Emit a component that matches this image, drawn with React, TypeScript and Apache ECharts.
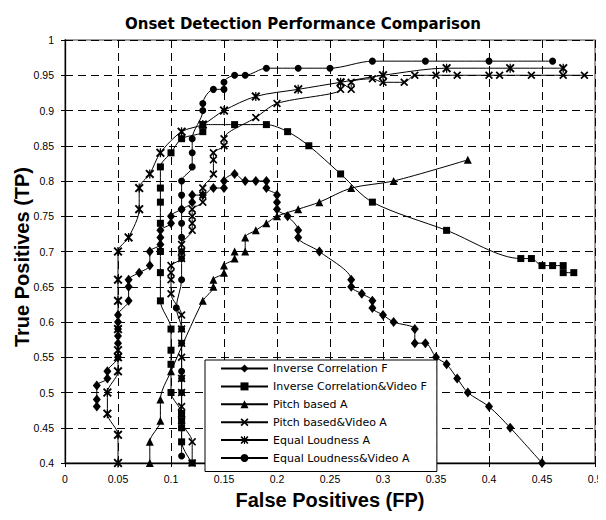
import React, { useEffect, useRef } from "react";
import * as echarts from "echarts";

const seriesNames = [
  "Inverse Correlation F",
  "Inverse Correlation&Video F",
  "Pitch based A",
  "Pitch based&Video A",
  "Equal Loudness A",
  "Equal Loudness&Video A",
];

const invCorrF: number[][] = [
  [0.03, 0.48], [0.03, 0.49], [0.03, 0.51], [0.04, 0.52], [0.04, 0.53], [0.05, 0.55], [0.05, 0.57],
  [0.05, 0.58], [0.05, 0.59], [0.05, 0.6], [0.05, 0.61], [0.06, 0.63], [0.06, 0.65], [0.06, 0.66],
  [0.07, 0.67], [0.08, 0.68], [0.08, 0.7], [0.09, 0.71], [0.09, 0.72], [0.09, 0.73], [0.1, 0.74],
  [0.1, 0.75], [0.11, 0.76], [0.12, 0.77], [0.12, 0.78], [0.13, 0.78], [0.14, 0.79], [0.15, 0.79],
  [0.15, 0.8], [0.16, 0.81], [0.17, 0.8], [0.18, 0.8], [0.19, 0.8], [0.19, 0.79], [0.2, 0.78],
  [0.2, 0.77], [0.2, 0.76], [0.21, 0.75], [0.22, 0.73], [0.22, 0.72], [0.24, 0.7], [0.27, 0.66],
  [0.27, 0.65], [0.28, 0.64], [0.29, 0.63], [0.29, 0.62], [0.3, 0.61], [0.31, 0.6], [0.33, 0.59],
  [0.33, 0.57], [0.34, 0.57], [0.35, 0.55], [0.36, 0.54], [0.37, 0.52], [0.38, 0.5], [0.4, 0.48],
  [0.42, 0.45], [0.45, 0.4],
];

const invCorrVideoF: number[][] = [
  [0.12, 0.4], [0.11, 0.43], [0.11, 0.45], [0.11, 0.46], [0.11, 0.47], [0.1, 0.5], [0.1, 0.54],
  [0.1, 0.56], [0.1, 0.59], [0.09, 0.63], [0.09, 0.67], [0.09, 0.7], [0.09, 0.74], [0.09, 0.77],
  [0.09, 0.79], [0.09, 0.82], [0.1, 0.84], [0.11, 0.86], [0.13, 0.87], [0.13, 0.88], [0.16, 0.88],
  [0.19, 0.88], [0.21, 0.87], [0.23, 0.85], [0.26, 0.81], [0.29, 0.77], [0.36, 0.73], [0.43, 0.69],
  [0.44, 0.69], [0.45, 0.68], [0.46, 0.68], [0.47, 0.68], [0.47, 0.67], [0.48, 0.67],
];

const pitchA: number[][] = [
  [0.08, 0.4], [0.08, 0.43], [0.09, 0.46], [0.09, 0.49], [0.1, 0.53], [0.13, 0.63], [0.14, 0.65],
  [0.14, 0.66], [0.15, 0.67], [0.15, 0.68], [0.16, 0.69], [0.16, 0.7], [0.17, 0.7], [0.17, 0.72],
  [0.18, 0.73], [0.19, 0.74], [0.2, 0.75], [0.22, 0.76], [0.24, 0.77], [0.27, 0.79], [0.31, 0.8],
  [0.38, 0.83],
];

const pitchVideoA: number[][] = [
  [0.12, 0.4], [0.12, 0.43], [0.11, 0.46], [0.11, 0.47], [0.11, 0.48], [0.11, 0.5], [0.11, 0.52],
  [0.11, 0.55], [0.11, 0.57], [0.11, 0.59], [0.11, 0.61], [0.1, 0.64], [0.1, 0.66], [0.1, 0.67],
  [0.1, 0.68], [0.11, 0.69], [0.11, 0.7], [0.11, 0.71], [0.12, 0.73], [0.12, 0.74], [0.12, 0.75],
  [0.12, 0.76], [0.13, 0.77], [0.13, 0.78], [0.13, 0.79], [0.14, 0.81], [0.14, 0.83], [0.14, 0.84],
  [0.15, 0.85], [0.15, 0.86], [0.18, 0.89], [0.2, 0.91], [0.26, 0.93], [0.26, 0.94], [0.27, 0.93],
  [0.27, 0.94], [0.29, 0.945], [0.3, 0.94], [0.32, 0.94], [0.33, 0.95], [0.35, 0.95], [0.37, 0.95],
  [0.4, 0.95], [0.41, 0.95], [0.44, 0.95], [0.47, 0.95], [0.49, 0.95],
];

const eqLoudA: number[][] = [
  [0.05, 0.4], [0.05, 0.44], [0.04, 0.47], [0.04, 0.5], [0.05, 0.53], [0.05, 0.55], [0.05, 0.56],
  [0.05, 0.59], [0.05, 0.63], [0.05, 0.66], [0.05, 0.7], [0.06, 0.72], [0.07, 0.76], [0.07, 0.79],
  [0.08, 0.81], [0.09, 0.84], [0.11, 0.87], [0.13, 0.88], [0.15, 0.9], [0.18, 0.92], [0.22, 0.93],
  [0.26, 0.94], [0.3, 0.95], [0.36, 0.96], [0.42, 0.96], [0.47, 0.96],
];

const eqLoudVideoA: number[][] = [
  [0.11, 0.41], [0.11, 0.45], [0.11, 0.47], [0.11, 0.5], [0.11, 0.52], [0.11, 0.53], [0.11, 0.57],
  [0.11, 0.59], [0.105, 0.62], [0.11, 0.66], [0.11, 0.69], [0.11, 0.7], [0.11, 0.72], [0.11, 0.74],
  [0.11, 0.76], [0.11, 0.78], [0.11, 0.8], [0.12, 0.82], [0.12, 0.84], [0.12, 0.86], [0.13, 0.9],
  [0.13, 0.91], [0.14, 0.93], [0.15, 0.93], [0.15, 0.94], [0.16, 0.95], [0.17, 0.95], [0.19, 0.96],
  [0.22, 0.96], [0.25, 0.96], [0.29, 0.97], [0.34, 0.97], [0.4, 0.97], [0.46, 0.97],
];

const X_PATH =
  "path://M0,1.5L1.5,0L5,3.5L8.5,0L10,1.5L6.5,5L10,8.5L8.5,10L5,6.5L1.5,10L0,8.5L3.5,5Z";
const STAR_PATH =
  "path://M0,1.5L1.5,0L5,3.5L8.5,0L10,1.5L6.5,5L10,8.5L8.5,10L5,6.5L1.5,10L0,8.5L3.5,5ZM4.3,0L5.7,0L5.7,10L4.3,10Z";

const fmt = (v: number) => String(Math.round(v * 100) / 100);

export default function App() {
  const ref = useRef<HTMLDivElement>(null);
  useEffect(() => {
    if (!ref.current) return;
    const chart = echarts.init(ref.current, undefined, { renderer: "svg" });
    const datasets = [invCorrF, invCorrVideoF, pitchA, pitchVideoA, eqLoudA, eqLoudVideoA];
    const symbols = ["diamond", "rect", "triangle", X_PATH, STAR_PATH, "circle"];
    const sizes: any[] = [[8, 10], 7, [8, 8], 8, 9, 7];
    chart.setOption({
      animation: false,
      backgroundColor: "#fff",
      title: {
        text: "Onset Detection Performance Comparison",
        left: "center",
        top: 11,
        textStyle: { fontFamily: "DejaVu Sans", fontWeight: "bold", fontSize: 15, color: "#000" },
      },
      graphic: [
        {
          type: "text",
          x: 22,
          y: 257,
          rotation: Math.PI / 2,
          style: {
            text: "True Positives (TP)",
            font: "bold 20px 'Liberation Sans'",
            fill: "#000",
            align: "center",
            verticalAlign: "middle",
          },
        },
      ],
      grid: {
        left: 65,
        top: 40,
        right: 11,
        bottom: 57,
        outerBoundsMode: "none",
        containLabel: false,
        show: true,
        borderColor: "#808080",
        borderWidth: 1.5,
        backgroundColor: "transparent",
      },
      legend: {
        data: seriesNames,
        orient: "vertical",
        left: 205,
        top: 360,
        itemWidth: 47,
        itemHeight: 10,
        itemGap: 6.9,
        padding: [3, 10, 8, 15],
        backgroundColor: "#fff",
        borderColor: "#000",
        borderWidth: 1,
        borderRadius: 0,
        z: 10,
        textStyle: { fontFamily: "DejaVu Sans", fontSize: 11, color: "#000" },
      },
      xAxis: {
        type: "value",
        min: 0,
        max: 0.5,
        interval: 0.05,
        name: "False Positives (FP)",
        nameLocation: "middle",
        nameGap: 27,
        nameTextStyle: { fontFamily: "Liberation Sans", fontWeight: "bold", fontSize: 20, color: "#000" },
        axisLine: { onZero: false, lineStyle: { color: "#000", width: 1.3 } },
        axisTick: { show: true, length: 4, lineStyle: { color: "#000" } },
        axisLabel: { formatter: fmt, fontFamily: "Liberation Sans", fontSize: 10.5, color: "#000", margin: 10 },
        splitLine: { show: true, lineStyle: { color: "#000", type: [8, 5], width: 1 } },
      },
      yAxis: {
        type: "value",
        min: 0.4,
        max: 1,
        interval: 0.05,
        axisLine: { onZero: false, lineStyle: { color: "#000", width: 1.3 } },
        axisTick: { show: true, length: 4, lineStyle: { color: "#000" } },
        axisLabel: { formatter: fmt, fontFamily: "Liberation Sans", fontSize: 10.5, color: "#000", margin: 11 },
        splitLine: { show: true, lineStyle: { color: "#000", type: [8, 5], width: 1 } },
      },
      series: datasets.map((d, i) => ({
        type: "line",
        name: seriesNames[i],
        data: d,
        symbol: symbols[i],
        symbolSize: sizes[i],
        showSymbol: true,
        showAllSymbol: true,
        smooth: 0.3,
        lineStyle: { color: "#000", width: 1 },
        itemStyle: { color: "#000" },
        emphasis: { disabled: true },
      })),
    });
    return () => chart.dispose();
  }, []);
  return <div ref={ref} style={{ width: 606, height: 520, margin: -8 }} />;
}
